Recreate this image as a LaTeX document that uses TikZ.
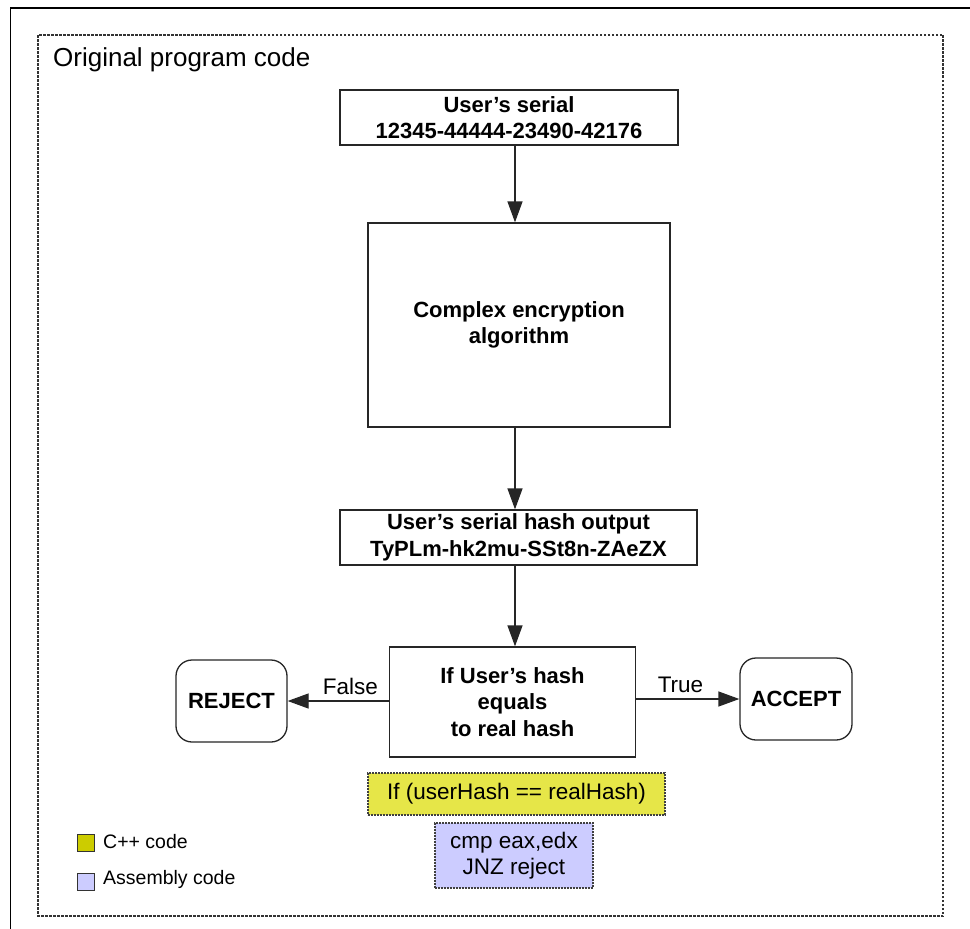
\documentclass[tikz,border=0pt]{standalone}
\usepackage{fontspec}
\setmainfont{Liberation Sans}
\usetikzlibrary{arrows.meta}

\newcommand*\bxfont{\fontsize{22}{26.5}\selectfont\bfseries}
\newcommand*\plfont{\fontsize{22.5}{26.5}\selectfont}
\newcommand*\lgfont{\fontsize{19.5}{23}\selectfont}

\definecolor{cppfill}{RGB}{230,230,72}
\definecolor{cppkey}{RGB}{204,204,0}
\definecolor{asmfill}{RGB}{204,204,255}

\begin{document}
\begin{tikzpicture}[x=1pt,y=-1pt,
  stepbox/.style={draw=black!85,line width=1.3pt,fill=white,inner sep=0pt,
                  align=center,font=\bxfont},
  endbox/.style={stepbox,rounded corners=16pt},
  codebox/.style={draw=black!75,line width=1.1pt,dash pattern=on 2pt off 1pt,
                  inner sep=0pt,align=center,font=\plfont},
  keybox/.style={draw=black!80,line width=1pt,inner sep=0pt,
                 minimum width=17pt,minimum height=17pt},
  flow/.style={line width=1.3pt,draw=black!85,
               -{Triangle[length=21pt,width=15pt]}},
  lbl/.style={font=\plfont,inner sep=0pt}
]
% canvas
\useasboundingbox (0,0) rectangle (970,929);
\fill[white] (0,0) rectangle (970,929);

% outer solid frame (top and left)
\draw[line width=1.3pt] (970,8) -- (10.5,8) -- (10.5,929);

% dotted group frame
\draw[black!80,line width=1.2pt,dash pattern=on 2.5pt off 1.5pt]
  (38,35) rectangle (943,916);
\node[anchor=base west,inner sep=0pt,font=\fontsize{26}{30}\selectfont]
  (title) at (53,66) {Original program code};

% flow column
\coordinate (col) at (515,0);

\node[stepbox,minimum width=338pt,minimum height=55pt] (serial) at (509,117.5)
  {User's serial\\12345-44444-23490-42176};
\node[stepbox,minimum width=302pt,minimum height=204pt] (enc) at (519,325)
  {Complex encryption\\algorithm};
\node[stepbox,minimum width=357pt,minimum height=55pt] (hash) at (518.5,537.5)
  {User's serial hash output\\TyPLm-hk2mu-SSt8n-ZAeZX};
\node[stepbox,minimum width=246pt,minimum height=110pt] (cmp) at (512.5,702)
  {If User's hash\\equals\\to real hash};

\node[endbox,minimum width=111pt,minimum height=82pt] (reject) at (231.5,701)
  {REJECT};
\node[endbox,minimum width=112pt,minimum height=82pt] (accept) at (796,699)
  {ACCEPT};

% connectors
\draw[flow] (serial.south -| col) -- (enc.north -| col);
\draw[flow] (enc.south -| col) -- (hash.north -| col);
\draw[flow] (hash.south -| col) -- (cmp.north -| col);

\draw[flow] (cmp.west |- reject.east) -- (reject.east)
  node[lbl,pos=0.38,anchor=base,yshift=7pt] (flbl) {False};
\draw[flow] (cmp.east |- accept.east) -- (accept.west)
  node[lbl,pos=0.43,anchor=base,yshift=7pt] (tlbl) {True};

% code snippets
\node[codebox,fill=cppfill,minimum width=297pt,minimum height=42pt] (cpp)
  at (516.5,794) {If (userHash == realHash)};
\node[codebox,fill=asmfill,minimum width=158pt,minimum height=65pt] (asm)
  at (514,855.5) {cmp eax,edx\\JNZ reject};

% legend
\node[keybox,fill=cppkey] (kcpp) at (85.5,843) {};
\node[keybox,fill=asmfill] (kasm) at (85.5,881.5) {};
\node[lbl,font=\lgfont,anchor=west] (tcpp) at (103,842) {C++ code};
\node[lbl,font=\lgfont,anchor=west] (tasm) at (103,879) {Assembly code};
\end{tikzpicture}
\end{document}
